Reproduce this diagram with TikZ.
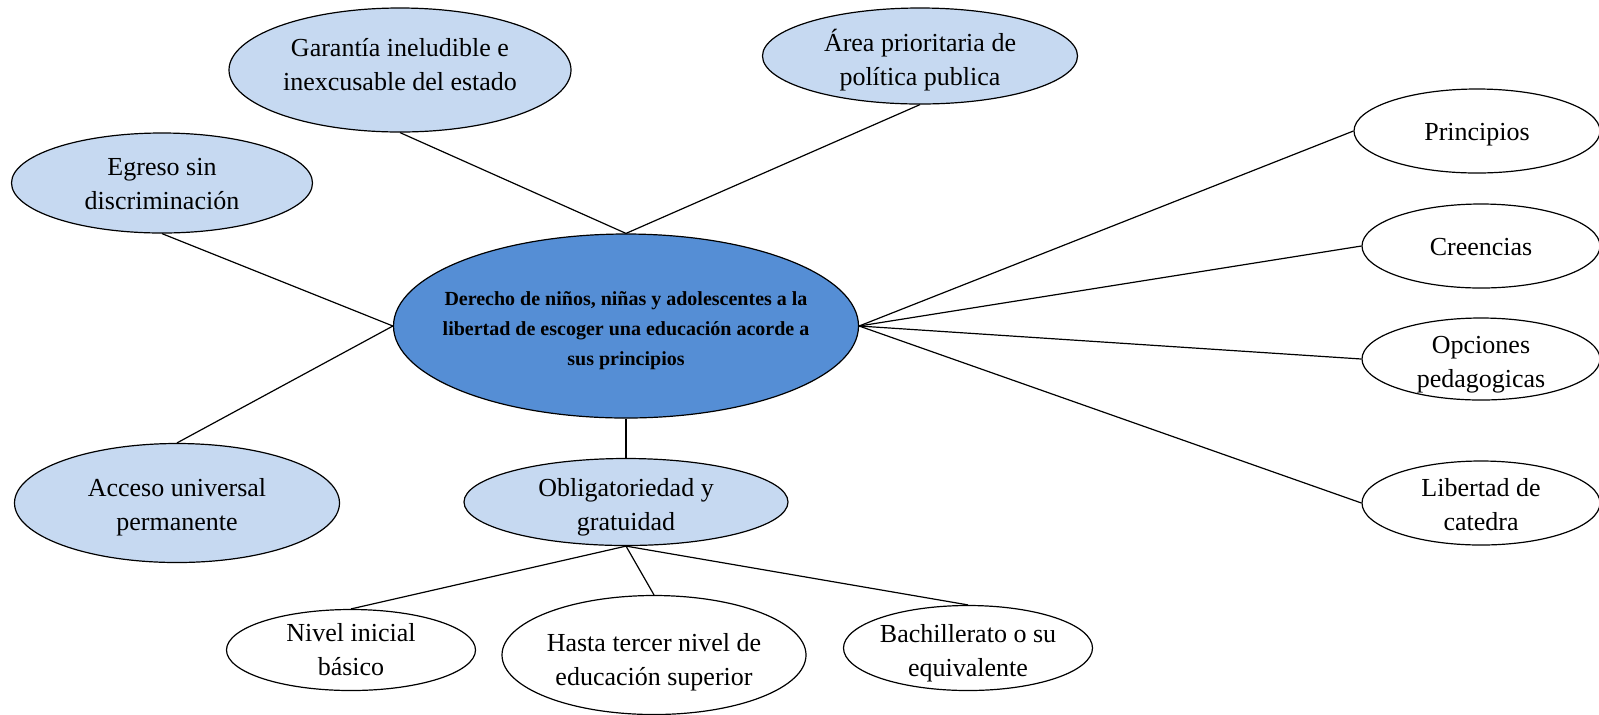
\documentclass[tikz,border=0pt]{standalone}
\usepackage{fontspec}
\setmainfont{Liberation Serif}
\usetikzlibrary{shapes.geometric}
\definecolor{lightbl}{HTML}{C6D9F1}
\definecolor{midbl}{HTML}{558ED5}
\tikzset{
  ell/.style={ellipse,draw=black,line width=0.6pt,inner sep=0pt},
  blueell/.style={ell,fill=lightbl},
  whiteell/.style={ell,fill=white},
  txt/.style={align=center,inner sep=0pt,font=\fontsize{13}{17}\selectfont},
  conn/.style={draw=black,line width=0.6pt}
}
\begin{document}
\begin{tikzpicture}[x=0.5pt,y=-0.5pt]
\useasboundingbox (0,0) rectangle (1599,714);
\node[ell,fill=midbl,minimum width=232.5pt,minimum height=92pt,
  label={[name=cT,txt,font=\fontsize{10}{15}\selectfont\bfseries,yshift=-2.5pt]center:Derecho de niños, niñas y adolescentes a la\\libertad de escoger una educación acorde a\\sus principios}] (c) at (626,326) {};
\node[blueell,minimum width=171pt,minimum height=62pt,
  label={[name=garT,txt,yshift=2.5pt]center:Garantía ineludible e\\inexcusable del estado}] (gar) at (400,70) {};
\node[blueell,minimum width=157.5pt,minimum height=48pt,
  label={[name=areaT,txt,yshift=-2pt]center:Área prioritaria de\\política publica}] (area) at (920,56) {};
\node[blueell,minimum width=150.5pt,minimum height=50pt,
  label={[name=egrT,txt,yshift=-0.5pt]center:Egreso sin\\discriminación}] (egr) at (162,183) {};
\node[blueell,minimum width=162.5pt,minimum height=59.5pt,
  label={[name=accT,txt,yshift=-2pt]center:Acceso universal\\permanente}] (acc) at (177,503) {};
\node[blueell,minimum width=162pt,minimum height=43.5pt,
  label={[name=oblT,txt,yshift=-2.5pt]center:Obligatoriedad y\\gratuidad}] (obl) at (626,502) {};
\node[whiteell,minimum width=124.5pt,minimum height=40.5pt,
  label={[name=nivT,txt]center:Nivel inicial\\básico}] (niv) at (351,650) {};
\node[whiteell,minimum width=152pt,minimum height=59.5pt,
  label={[name=hasT,txt,yshift=-3.5pt]center:Hasta tercer nivel de\\educación superior}] (has) at (654,655) {};
\node[whiteell,minimum width=124.5pt,minimum height=42.5pt,
  label={[name=bacT,txt,yshift=-2.5pt]center:Bachillerato o su\\equivalente}] (bac) at (968,648) {};
\node[whiteell,minimum width=123pt,minimum height=42pt,
  label={[name=priT,txt,yshift=-2pt]center:Principios}] (pri) at (1477,131) {};
\node[whiteell,minimum width=119pt,minimum height=42pt,
  label={[name=creT,txt,yshift=-0.5pt]center:Creencias}] (cre) at (1481,246) {};
\node[whiteell,minimum width=119pt,minimum height=41pt,
  label={[name=opcT,txt,yshift=-3pt]center:Opciones\\pedagogicas}] (opc) at (1481,359) {};
\node[whiteell,minimum width=119pt,minimum height=42pt,
  label={[name=libT,txt,yshift=-1pt]center:Libertad de\\catedra}] (lib) at (1481,503) {};
\draw[conn] (c.north) -- (gar.south);
\draw[conn] (c.north) -- (area.south);
\draw[conn] (c.west) -- (egr.south);
\draw[conn] (c.west) -- (acc.north);
\draw[conn] (c.south) -- (obl.north);
\draw[conn] (c.east) -- (pri.west);
\draw[conn] (c.east) -- (cre.west);
\draw[conn] (c.east) -- (opc.west);
\draw[conn] (c.east) -- (lib.west);
\draw[conn] (obl.south) -- (niv.north);
\draw[conn] (obl.south) -- (has.north);
\draw[conn] (obl.south) -- (bac.north);
\end{tikzpicture}
\end{document}
